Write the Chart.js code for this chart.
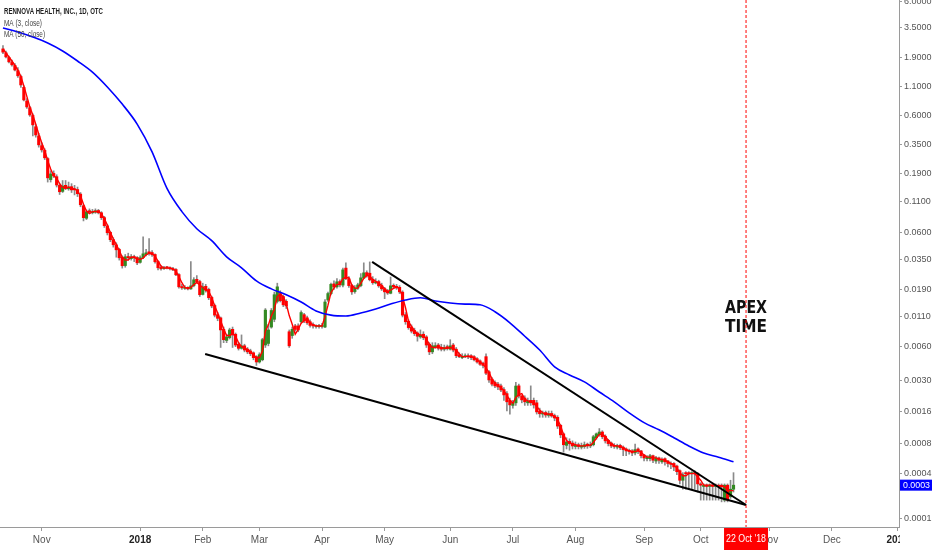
<!DOCTYPE html>
<html>
<head>
<meta charset="utf-8">
<title>RNVA 1D</title>
<script src="https://cdn.jsdelivr.net/npm/chart.js@4.4.0/dist/chart.umd.min.js"></script>
<style>
  html, body { margin: 0; padding: 0; background: #fff; }
  canvas { display: block; }
</style>
</head>
<body>
<canvas id="rnvaChart" width="932" height="550"></canvas>
<script>
// daily candles, index = trading day (0 = mid Oct 2017, 245 = 17 Oct 2018)
const opens = [
  2.25,2.08,1.90,1.72,1.62,1.46,1.30,1.05,0.80,0.70,
  0.60,0.48,0.40,0.33,0.30,0.255,0.168,0.19,0.178,0.15,
  0.133,0.150,0.140,0.146,0.140,0.138,0.126,0.100,0.078,0.090,
  0.087,0.088,0.091,0.087,0.079,0.067,0.059,0.051,0.046,0.042,
  0.036,0.0305,0.0365,0.0350,0.0365,0.0358,0.0325,0.0358,0.0380,0.0400,
  0.0395,0.0380,0.0330,0.0294,0.0287,0.0293,0.0293,0.0287,0.0282,0.0255,
  0.0201,0.0194,0.0198,0.0192,0.0205,0.0232,0.0222,0.0172,0.0202,0.0190,
  0.0162,0.0138,0.0115,0.0108,0.0086,0.0069,0.0073,0.0086,0.0078,0.0064,
  0.0059,0.0062,0.0058,0.0056,0.0054,0.0050,0.0045,0.0047,0.0063,0.0065,
  0.0090,0.0105,0.0150,0.0175,0.0165,0.0150,0.0082,0.0076,0.0092,0.0092,
  0.0100,0.0115,0.0108,0.0100,0.0095,0.0091,0.0091,0.0091,0.0090,0.0154,
  0.0175,0.0212,0.0200,0.0222,0.0207,0.0290,0.0235,0.0205,0.0182,0.0195,
  0.0205,0.0238,0.0265,0.0262,0.0232,0.0216,0.0222,0.0205,0.0193,0.0183,
  0.0176,0.0206,0.0202,0.0198,0.0180,0.0115,0.0101,0.0090,0.0084,0.0080,
  0.0074,0.0078,0.0074,0.0064,0.0055,0.0061,0.0063,0.0060,0.0058,0.0061,
  0.0058,0.0063,0.0058,0.0052,0.0049,0.0050,0.0051,0.0051,0.0050,0.0048,
  0.0046,0.0044,0.0050,0.0037,0.0032,0.0030,0.0029,0.0028,0.0026,0.0024,
  0.0021,0.0019,0.0020,0.0028,0.0023,0.0022,0.0020,0.0021,0.0021,0.0020,
  0.0017,0.0016,0.00165,0.00156,0.00162,0.00155,0.0015,0.00128,0.00108,0.00086,
  0.00093,0.0009,0.00084,0.00087,0.00083,0.00084,0.00088,0.00085,0.00087,0.0010,
  0.00106,0.00112,0.00103,0.00095,0.0009,0.00086,0.00083,0.00086,0.00083,0.0008,
  0.00078,0.00077,0.00074,0.0008,0.00077,0.00071,0.00066,0.00066,0.0007,0.00063,
  0.00067,0.00062,0.00066,0.00063,0.0006,0.0006,0.00057,0.00052,0.00043,0.0005,
  0.0005,0.00049,0.0005,0.00049,0.0004,0.00038,0.00039,0.00038,0.00039,0.00038,
  0.00039,0.00039,0.00029,0.00039,0.00031,0.00036
];
const highs = [
  2.40,2.15,1.95,1.80,1.68,1.55,1.34,1.08,0.84,0.72,
  0.62,0.50,0.42,0.35,0.31,0.26,0.20,0.20,0.185,0.155,
  0.165,0.165,0.160,0.155,0.150,0.145,0.130,0.102,0.092,0.094,
  0.093,0.094,0.093,0.089,0.081,0.069,0.060,0.053,0.048,0.043,
  0.037,0.038,0.039,0.038,0.0375,0.0365,0.0370,0.054,0.042,0.052,
  0.041,0.0385,0.0335,0.0305,0.0300,0.0300,0.0298,0.0295,0.0288,0.0260,
  0.0210,0.0205,0.0200,0.0330,0.0240,0.0250,0.0228,0.0215,0.0210,0.0195,
  0.0166,0.0142,0.0120,0.0110,0.0090,0.0078,0.0088,0.0090,0.0080,0.0066,
  0.0077,0.0064,0.0060,0.0058,0.0055,0.0051,0.0054,0.0072,0.0130,0.0095,
  0.0130,0.0180,0.0215,0.0185,0.0170,0.0155,0.0085,0.0090,0.0095,0.0096,
  0.0124,0.0118,0.0112,0.0104,0.0098,0.0094,0.0095,0.0097,0.0155,0.0180,
  0.0215,0.0225,0.0235,0.0230,0.0290,0.0322,0.0245,0.0210,0.0205,0.0215,
  0.0260,0.0322,0.0275,0.0328,0.0245,0.0235,0.0228,0.0215,0.0198,0.0190,
  0.0243,0.0212,0.0210,0.0205,0.0185,0.0120,0.0104,0.0094,0.0088,0.0082,
  0.0085,0.0082,0.0076,0.0066,0.0066,0.0066,0.0065,0.0064,0.0063,0.0063,
  0.0070,0.0065,0.0060,0.0054,0.0053,0.0053,0.0053,0.0052,0.0051,0.0049,
  0.0047,0.0045,0.0053,0.0038,0.0033,0.0031,0.0030,0.0029,0.0027,0.0025,
  0.0022,0.0021,0.0030,0.0029,0.0023,0.0023,0.0022,0.0028,0.0022,0.0021,
  0.0018,0.0017,0.0017,0.0017,0.0017,0.0016,0.00155,0.0013,0.0011,0.0010,
  0.00098,0.00094,0.00092,0.0009,0.0009,0.00092,0.0009,0.00092,0.00105,0.0011,
  0.0012,0.00115,0.00106,0.00097,0.00092,0.00089,0.00088,0.00088,0.00085,0.00082,
  0.0008,0.00079,0.00088,0.00082,0.00078,0.00072,0.0007,0.00072,0.00071,0.00069,
  0.00068,0.00067,0.00067,0.00064,0.00062,0.00061,0.00058,0.00053,0.0005,0.00051,
  0.00051,0.00051,0.00052,0.0005,0.00041,0.0004,0.0004,0.0004,0.0004,0.0004,
  0.0004,0.0004,0.0004,0.0004,0.00043,0.0005
];
const lows = [
  2.05,1.88,1.70,1.60,1.45,1.28,1.05,0.80,0.69,0.59,
  0.40,0.39,0.32,0.29,0.25,0.160,0.160,0.175,0.145,0.125,
  0.130,0.138,0.136,0.130,0.124,0.120,0.098,0.074,0.076,0.086,
  0.085,0.086,0.085,0.076,0.065,0.056,0.049,0.044,0.036,0.034,
  0.029,0.0295,0.034,0.034,0.033,0.031,0.032,0.0350,0.0370,0.0375,
  0.0365,0.0320,0.0280,0.0278,0.0282,0.0285,0.0280,0.0275,0.0250,0.0195,
  0.0190,0.0190,0.0188,0.0190,0.0200,0.0215,0.0165,0.0170,0.0180,0.0155,
  0.0132,0.0110,0.0102,0.0060,0.0066,0.0066,0.0071,0.0060,0.0061,0.0057,
  0.0058,0.0055,0.0053,0.0051,0.0047,0.0042,0.0044,0.0046,0.0060,0.0062,
  0.0088,0.0100,0.0145,0.0148,0.0135,0.0130,0.0060,0.0072,0.0083,0.0082,
  0.0097,0.0098,0.0095,0.0090,0.0088,0.0088,0.0088,0.0088,0.0089,0.0150,
  0.0170,0.0190,0.0195,0.0200,0.0200,0.0230,0.0198,0.0172,0.0176,0.0190,
  0.0200,0.0235,0.0242,0.0225,0.0210,0.0212,0.0198,0.0186,0.0158,0.0172,
  0.0174,0.0195,0.0190,0.0175,0.0110,0.0095,0.0086,0.0080,0.0076,0.0068,
  0.0072,0.0070,0.0060,0.0052,0.0053,0.0059,0.0057,0.0056,0.0056,0.0057,
  0.0057,0.0055,0.0049,0.0049,0.0048,0.0049,0.0048,0.0047,0.0046,0.0044,
  0.0042,0.0040,0.0035,0.0030,0.0028,0.0027,0.0026,0.0025,0.0021,0.0017,
  0.0016,0.0018,0.0019,0.0022,0.0020,0.0019,0.0019,0.0019,0.0018,0.0016,
  0.0015,0.0015,0.0015,0.0015,0.0015,0.0014,0.0012,0.0010,0.00075,0.0008,
  0.00078,0.0008,0.0008,0.0008,0.0008,0.00081,0.00081,0.00082,0.00085,0.00097,
  0.00103,0.00098,0.0009,0.00085,0.00082,0.00081,0.0008,0.00079,0.0007,0.0007,
  0.00072,0.0007,0.00071,0.00073,0.00067,0.00063,0.00063,0.00063,0.00061,0.0006,
  0.0006,0.0006,0.00058,0.00056,0.00054,0.00052,0.00048,0.0004,0.00036,0.00036,
  0.00036,0.00036,0.00036,0.00034,0.00029,0.00029,0.00029,0.00029,0.00029,0.00029,
  0.00029,0.00028,0.00028,0.00028,0.0003,0.00034
];
const closes = [
  2.11,1.92,1.74,1.64,1.48,1.32,1.10,0.817,0.711,0.607,
  0.498,0.408,0.335,0.303,0.259,0.174,0.188,0.181,0.151,0.132,
  0.148,0.142,0.145,0.137,0.137,0.127,0.102,0.0789,0.0888,0.0888,
  0.0888,0.0906,0.0870,0.0789,0.0673,0.0585,0.0510,0.0461,0.0417,0.0356,
  0.0304,0.0363,0.0356,0.0363,0.0356,0.0322,0.0356,0.0385,0.0393,0.0393,
  0.0378,0.0329,0.0292,0.0286,0.0292,0.0292,0.0286,0.0280,0.0254,0.0200,
  0.0196,0.0196,0.0192,0.0204,0.0230,0.0221,0.0171,0.0200,0.0188,0.0161,
  0.0137,0.0114,0.0107,0.0085,0.0070,0.0074,0.0085,0.0077,0.0063,0.0059,
  0.0062,0.0057,0.0055,0.0053,0.0049,0.0045,0.0052,0.0070,0.0126,0.0085,
  0.0125,0.0171,0.0200,0.0152,0.0140,0.0137,0.0062,0.0086,0.0086,0.0085,
  0.0120,0.0102,0.0098,0.0093,0.0092,0.0092,0.0092,0.0093,0.0148,0.0175,
  0.0210,0.0200,0.0221,0.0208,0.0280,0.0235,0.0205,0.0181,0.0196,0.0208,
  0.0239,0.0264,0.0249,0.0230,0.0217,0.0221,0.0204,0.0192,0.0181,0.0177,
  0.0204,0.0200,0.0196,0.0181,0.0114,0.0100,0.0089,0.0083,0.0079,0.0075,
  0.0077,0.0073,0.0063,0.0055,0.0062,0.0062,0.0059,0.0058,0.0060,0.0059,
  0.0062,0.0057,0.0051,0.0050,0.0050,0.0051,0.0050,0.0049,0.0047,0.0045,
  0.0043,0.0042,0.0036,0.00315,0.0029,0.0028,0.00274,0.00258,0.00234,0.00204,
  0.00192,0.00198,0.00279,0.00229,0.00212,0.00204,0.00208,0.0020,0.00192,0.00167,
  0.00161,0.00163,0.00157,0.00161,0.00154,0.00148,0.00126,0.00106,0.00087,0.00092,
  0.00089,0.00085,0.00086,0.00084,0.00085,0.00087,0.00085,0.00087,0.00102,0.00108,
  0.00112,0.00102,0.00094,0.00089,0.00085,0.00084,0.00085,0.00082,0.00079,0.00077,
  0.00076,0.00074,0.00079,0.00077,0.00070,0.00067,0.00068,0.0007,0.00064,0.00067,
  0.00064,0.00065,0.00062,0.0006,0.00059,0.00056,0.00051,0.00043,0.00048,0.00049,
  0.00049,0.0005,0.00049,0.0004,0.00039,0.00039,0.00038,0.00039,0.00038,0.00039,
  0.00038,0.00038,0.00039,0.00029,0.00036,0.00039
];
// MA (3, close) as drawn on the chart
const ma3 = [
  2.25,2.08,1.92,1.77,1.62,1.48,1.30,1.08,0.876,0.712,
  0.605,0.504,0.414,0.349,0.299,0.245,0.207,0.181,0.173,0.155,
  0.144,0.141,0.145,0.141,0.140,0.134,0.122,0.103,0.090,0.0855,
  0.0888,0.0894,0.0888,0.0855,0.0777,0.0682,0.0589,0.0519,0.0463,0.0411,
  0.0359,0.0341,0.0341,0.0361,0.0358,0.0347,0.0345,0.0354,0.0378,0.0390,
  0.0388,0.0367,0.0333,0.0302,0.0290,0.0290,0.0290,0.0286,0.0273,0.0245,
  0.0217,0.0197,0.0195,0.0197,0.0209,0.0218,0.0207,0.0197,0.0186,0.0183,
  0.0162,0.0137,0.0119,0.0102,0.0087,0.0076,0.0076,0.0079,0.0075,0.0066,
  0.0061,0.0059,0.0058,0.0055,0.0052,0.0049,0.0049,0.0056,0.0083,0.0094,
  0.0112,0.0127,0.0165,0.0174,0.0164,0.0143,0.0113,0.0095,0.0078,0.0086,
  0.0097,0.0102,0.0107,0.0098,0.0094,0.0092,0.0092,0.0092,0.0111,0.0139,
  0.0178,0.0195,0.0210,0.0210,0.0236,0.0241,0.0240,0.0207,0.0194,0.0195,
  0.0214,0.0237,0.0251,0.0248,0.0232,0.0223,0.0214,0.0206,0.0192,0.0183,
  0.0187,0.0194,0.0200,0.0192,0.0164,0.0132,0.0101,0.0091,0.0084,0.0079,
  0.0077,0.0075,0.0071,0.0064,0.0060,0.0060,0.0061,0.0060,0.0059,0.0059,
  0.0060,0.0059,0.0057,0.0053,0.0050,0.0050,0.0050,0.0050,0.0049,0.0047,
  0.0045,0.0043,0.0040,0.00365,0.00322,0.00295,0.00281,0.00271,0.00255,0.00232,
  0.00210,0.00198,0.00223,0.00235,0.00240,0.00215,0.00208,0.00204,0.00200,0.00186,
  0.00173,0.00164,0.00160,0.00160,0.00157,0.00154,0.00143,0.00127,0.00106,0.00095,
  0.00089,0.00089,0.00087,0.00085,0.00085,0.00085,0.00086,0.00086,0.00091,0.00099,
  0.00107,0.00107,0.00103,0.00095,0.00089,0.00086,0.00085,0.00084,0.00082,0.00079,
  0.00077,0.00076,0.00076,0.00077,0.00075,0.00071,0.00068,0.00068,0.00067,0.00067,
  0.00065,0.00065,0.00064,0.00062,0.00060,0.00058,0.00055,0.00050,0.00047,0.00047,
  0.00049,0.00049,0.00049,0.00046,0.00043,0.00039,0.00039,0.00039,0.00039,0.00039,
  0.00038,0.00038,0.00038,0.00035,0.00035,0.00035
];
// MA (50, close), read every 5th bar
const ma50Step = 5;
const ma50 = [
  3.41,3.15,2.85,2.53,2.16,1.77,1.42,1.057,0.752,0.506,
  0.291,0.141,0.089,0.0634,0.0500,0.0363,0.0292,0.0225,0.0192,0.0171,
  0.0148,0.0124,0.0114,0.0112,0.0119,0.0129,0.0142,0.0154,0.0161,0.0151,
  0.0145,0.0142,0.0140,0.0122,0.0098,0.0075,0.0057,0.00408,0.00348,0.00303,
  0.00248,0.00204,0.00164,0.00135,0.00117,0.00100,0.00085,0.00074,0.00068,0.00062
];

// x axis: month starts as trading day index
const monthIdx = [13, 46, 67, 86, 107, 128, 150, 171, 192, 215, 234, 257, 278, 300];
const monthLabels = ['Nov', '2018', 'Feb', 'Mar', 'Apr', 'May', 'Jun', 'Jul', 'Aug', 'Sep', 'Oct', 'Nov', 'Dec', '2019'];

// y axis (log): where each label sits, and the truncated text shown
const priceTicks = [5.71, 3.41, 1.88, 1.057, 0.595, 0.334, 0.188, 0.1078, 0.0583, 0.0341,
                    0.0188, 0.0110, 0.00606, 0.00309, 0.00167, 0.000884, 0.000488, 0.000200];
const priceLabels = ['6.0000', '3.5000', '1.9000', '1.1000', '0.6000', '0.3500', '0.1900', '0.1100', '0.0600', '0.0350',
                     '0.0190', '0.0110', '0.0060', '0.0030', '0.0016', '0.0008', '0.0004', '0.0001'];

// wedge drawn on the chart: [bar index, price]
const upperTrend = [[123.8, 0.0328], [249.2, 0.000263]];
const lowerTrend = [[67.8, 0.00528], [249.2, 0.000263]];
const apexIdx = 249.2;
const apexDate = "22 Oct '18";
const apexText = [['APEX', 0.0119], ['TIME', 0.0081]];

const xMin = -1, xMax = 300.5;
const yMin = 0.000170, yMax = 5.94;

const SANS = "'Liberation Sans', Arial, sans-serif";
const RED = '#ff0000';
const GREEN = '#338a22';

const ctx = document.getElementById('rnvaChart').getContext('2d');

const bodyColors = closes.map((c, i) => c >= opens[i] ? GREEN : RED);
const isYear = i => /^20/.test(monthLabels[i] || '');

const overlay = {
  id: 'overlay',
  beforeDatasetsDraw(chart) {
    const { ctx, scales: { x, y } } = chart;
    ctx.save();
    ctx.fillStyle = '#111';
    ctx.font = "bold 18px 'DejaVu Sans Condensed', 'DejaVu Sans', sans-serif";
    ctx.textAlign = 'center';
    ctx.textBaseline = 'alphabetic';
    apexText.forEach(([t, p]) => ctx.fillText(t, x.getPixelForValue(apexIdx), y.getPixelForValue(p), 42));
    ctx.restore();
  },
  afterDraw(chart) {
    const { ctx, chartArea, scales: { x, y } } = chart;
    ctx.save();
    // header
    ctx.textAlign = 'left';
    ctx.textBaseline = 'alphabetic';
    ctx.fillStyle = '#1e1e1e';
    ctx.font = 'bold 9.5px ' + SANS;
    ctx.fillText('RENNOVA HEALTH, INC., 1D, OTC', 4, 14, 99);
    ctx.fillStyle = '#444';
    ctx.font = '9.5px ' + SANS;
    ctx.fillText('MA (3, close)', 4, 25.5, 38);
    ctx.fillText('MA (50, close)', 4, 36.5, 41);

    // corner below the price axis hides the cut 2019 label
    ctx.fillStyle = '#fff';
    ctx.fillRect(chartArea.right + 1, chartArea.bottom + 1, chart.width - chartArea.right, chart.height - chartArea.bottom);

    // last price tag
    const lastClose = closes[closes.length - 1];
    const py = y.getPixelForValue(lastClose);
    ctx.fillStyle = '#0000ff';
    ctx.fillRect(chartArea.right + 1, py - 5.5, chart.width - chartArea.right, 11);
    ctx.fillStyle = '#fff';
    ctx.font = '9px ' + SANS;
    ctx.textBaseline = 'middle';
    ctx.fillText((Math.floor(lastClose * 1e4) / 1e4).toFixed(4), chartArea.right + 4, py + 0.5, 27);

    // date tag under the apex
    const ax = x.getPixelForValue(apexIdx);
    ctx.fillStyle = RED;
    ctx.fillRect(ax - 22, chartArea.bottom + 1, 44, chart.height - chartArea.bottom);
    ctx.fillStyle = '#fff';
    ctx.font = '10px ' + SANS;
    ctx.textAlign = 'center';
    ctx.fillText(apexDate, ax, chartArea.bottom + 12.5, 40);
    ctx.restore();
  }
};

new Chart(ctx, {
  type: 'bar',
  data: {
    datasets: [
      {
        type: 'line',
        data: [{ x: apexIdx, y: yMax }, { x: apexIdx, y: yMin }],
        borderColor: RED,
        borderWidth: 1,
        borderDash: [3, 2],
        pointRadius: 0,
        order: 1
      },
      {
        type: 'line',
        data: upperTrend.map(([i, p]) => ({ x: i, y: p })),
        borderColor: '#000',
        borderWidth: 2,
        pointRadius: 0,
        order: 1
      },
      {
        type: 'line',
        data: lowerTrend.map(([i, p]) => ({ x: i, y: p })),
        borderColor: '#000',
        borderWidth: 2,
        pointRadius: 0,
        order: 1
      },
      {
        type: 'line',
        label: 'MA (50, close)',
        data: ma50.map((v, k) => ({ x: k * ma50Step, y: v })),
        borderColor: '#0000ff',
        borderWidth: 1.6,
        pointRadius: 0,
        cubicInterpolationMode: 'monotone',
        order: 2
      },
      {
        type: 'line',
        label: 'MA (3, close)',
        data: ma3.map((v, i) => ({ x: i, y: v })),
        borderColor: RED,
        borderWidth: 1.4,
        pointRadius: 0,
        order: 2
      },
      {
        label: 'body',
        data: opens.map((o, i) => ({ x: i, y: [o, closes[i]] })),
        backgroundColor: bodyColors,
        borderWidth: 0,
        grouped: false,
        barPercentage: 1,
        categoryPercentage: 1,
        maxBarThickness: 2.5,
        minBarLength: 1,
        order: 3
      },
      {
        label: 'wick',
        data: highs.map((h, i) => ({ x: i, y: [lows[i], h] })),
        backgroundColor: '#8a8a8a',
        borderWidth: 0,
        grouped: false,
        barPercentage: 1,
        categoryPercentage: 1,
        maxBarThickness: 1,
        order: 4
      }
    ]
  },
  options: {
    responsive: false,
    animation: false,
    events: [],
    layout: { padding: 0, autoPadding: false },
    plugins: { legend: { display: false }, tooltip: { enabled: false } },
    scales: {
      x: {
        type: 'linear',
        min: xMin,
        max: xMax,
        offset: false,
        bounds: 'data',
        grid: { drawOnChartArea: false, drawTicks: true, offset: false, tickLength: 4, color: '#9a9a9a' },
        border: { display: true, color: '#9a9a9a' },
        afterBuildTicks: s => { s.ticks = monthIdx.map(v => ({ value: v })); },
        afterFit: s => { s.height = 23; s.paddingLeft = 0; s.paddingRight = 0; },
        ticks: {
          autoSkip: false,
          maxRotation: 0,
          padding: 3,
          callback: (v, i) => monthLabels[i],
          color: c => isYear(c.index) ? '#222' : '#555',
          font: c => ({ family: SANS, size: 10, weight: isYear(c.index) ? 'bold' : 'normal' })
        }
      },
      y: {
        type: 'logarithmic',
        position: 'right',
        min: yMin,
        max: yMax,
        bounds: 'data',
        grid: { drawOnChartArea: false, drawTicks: true, tickLength: 3, color: '#9a9a9a' },
        border: { display: true, color: '#9a9a9a' },
        afterBuildTicks: s => { s.ticks = priceTicks.map(v => ({ value: v })); },
        afterFit: s => { s.width = 33; s.paddingTop = 0; s.paddingBottom = 0; },
        ticks: {
          autoSkip: false,
          padding: 2,
          callback: (v, i) => priceLabels[i],
          color: '#555',
          font: { family: SANS, size: 9 }
        }
      }
    }
  },
  plugins: [overlay]
});
</script>
</body>
</html>
